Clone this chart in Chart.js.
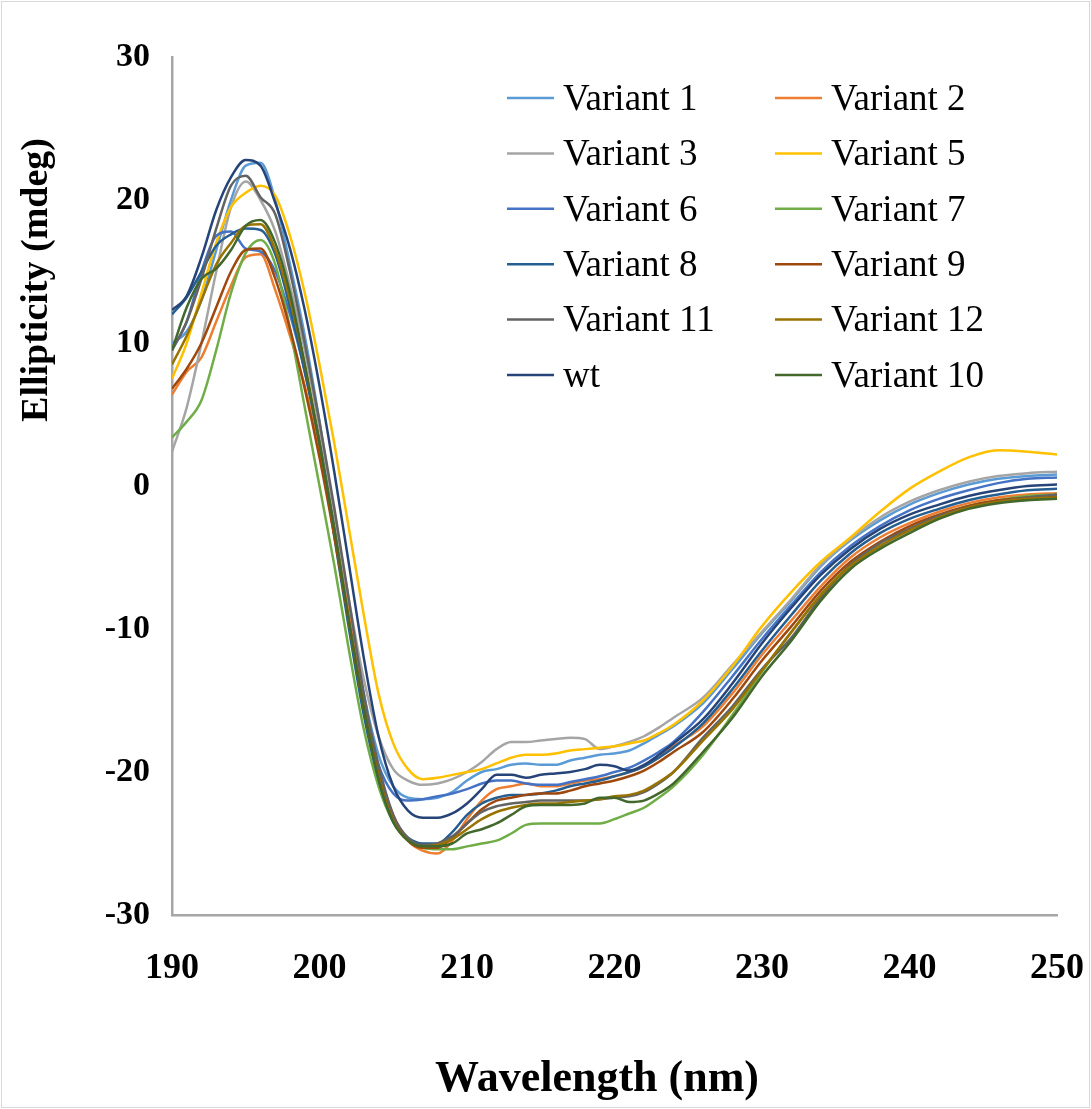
<!DOCTYPE html>
<html>
<head>
<meta charset="utf-8">
<script src="https://cdn.jsdelivr.net/npm/chart.js@4.4.1/dist/chart.umd.min.js"></script>
<style>
  html, body { margin: 0; padding: 0; background: #fff; }
  #wrap { width: 1091px; height: 1109px; }
</style>
</head>
<body>
<div id="wrap"><canvas id="cd" width="1091" height="1109"></canvas></div>
<script>
// wavelength grid (nm)
const wavelengths = [190, 191, 192, 193, 194, 195, 196, 197, 198, 199, 200, 201, 202, 203, 204, 205, 206, 207, 208, 209,
  210, 211, 212, 213, 214, 215, 216, 217, 218, 219, 220, 221, 222, 223, 224,
  226, 228, 230, 232, 234, 236, 238, 240, 242, 244, 246, 248, 250];

// ellipticity (mdeg)
const variant1 = [10.0, 10.8, 13.0, 16.5, 20.0, 22.4, 22.6, 20.0, 15.5, 10.5, 4.5, -2.0, -8.5, -14.5, -18.8, -21.0, -21.8, -21.9, -21.8, -21.4,
  -20.6, -20.0, -19.8, -19.5, -19.4, -19.5, -19.5, -19.2, -19.0, -18.8, -18.7, -18.5, -18.0, -17.4, -16.8,
  -15.2, -12.8, -10.3, -8.0, -5.6, -3.8, -2.4, -1.3, -0.5, 0.1, 0.5, 0.7, 0.8];
const variant2 = [6.4, 8.0, 9.0, 11.5, 14.0, 16.0, 16.2, 13.7, 10.5, 7.0, 2.5, -3.0, -9.0, -15.0, -19.8, -23.0, -24.8, -25.5, -25.7, -24.8,
  -23.3, -22.0, -21.2, -21.0, -20.8, -21.0, -21.0, -20.8, -20.6, -20.5, -20.3, -20.0, -19.6, -19.0, -18.2,
  -16.8, -14.5, -11.8, -9.4, -7.0, -5.0, -3.6, -2.6, -1.8, -1.2, -0.8, -0.6, -0.5];
const variant3 = [2.4, 5.5, 10.0, 15.0, 19.5, 21.3, 20.0, 17.8, 14.0, 9.5, 4.0, -2.0, -8.0, -13.5, -17.5, -19.8, -20.6, -20.9, -20.8, -20.5,
  -20.0, -19.3, -18.4, -17.9, -17.9, -17.8, -17.7, -17.6, -17.7, -18.4, -18.2, -17.9, -17.5, -16.9, -16.2,
  -14.8, -12.5, -10.2, -7.9, -5.5, -3.7, -2.2, -1.1, -0.3, 0.3, 0.7, 0.9, 1.0];
const variant5 = [7.5, 10.0, 13.5, 17.0, 19.5, 20.5, 21.0, 20.3, 17.5, 13.5, 8.5, 3.0, -3.0, -9.0, -14.5, -18.0, -19.8, -20.5, -20.4, -20.2,
  -20.0, -19.8, -19.4, -19.0, -18.8, -18.8, -18.7, -18.5, -18.4, -18.3, -18.2, -18.0, -17.8, -17.3, -16.7,
  -15.0, -12.6, -9.8, -7.4, -5.3, -3.6, -1.8, -0.2, 1.0, 2.0, 2.5, 2.4, 2.2];
const variant6 = [9.5, 11.5, 15.0, 17.5, 17.8, 16.6, 16.4, 15.0, 12.0, 8.0, 3.0, -3.0, -9.5, -15.5, -19.5, -21.5, -22.0, -21.9, -21.7, -21.5,
  -21.2, -20.8, -20.6, -20.6, -20.8, -20.9, -20.9, -20.7, -20.5, -20.3, -20.0, -19.7, -19.2, -18.6, -17.9,
  -15.8, -13.3, -10.7, -8.3, -6.0, -4.2, -2.8, -1.7, -0.9, -0.3, 0.2, 0.5, 0.6];
const variant7 = [3.4, 4.5, 6.0, 9.5, 13.5, 16.3, 17.2, 15.5, 11.0, 5.5, 0.0, -5.5, -11.5, -17.0, -21.0, -23.5, -24.8, -25.3, -25.4, -25.4,
  -25.2, -25.0, -24.8, -24.3, -23.7, -23.6, -23.6, -23.6, -23.6, -23.6, -23.3, -22.9, -22.5, -21.8, -21.0,
  -18.8, -16.0, -13.0, -10.2, -7.6, -5.5, -4.0, -3.0, -2.1, -1.4, -1.0, -0.7, -0.6];
const variant8 = [12.0, 13.2, 15.0, 16.8, 17.6, 18.0, 17.9, 16.2, 12.5, 8.0, 3.0, -3.5, -10.0, -16.0, -20.5, -23.5, -24.6, -25.0, -25.0, -24.2,
  -23.0, -22.2, -21.8, -21.6, -21.6, -21.5, -21.3, -21.0, -20.8, -20.6, -20.3, -20.0, -19.6, -19.0, -18.3,
  -16.6, -14.2, -11.5, -9.0, -6.6, -4.7, -3.3, -2.3, -1.6, -1.0, -0.6, -0.3, -0.2];
const variant9 = [6.8, 8.2, 10.0, 12.5, 15.0, 16.5, 16.6, 14.5, 11.0, 6.8, 2.0, -3.5, -9.5, -15.5, -20.0, -23.2, -24.8, -25.3, -25.3, -24.6,
  -23.6, -22.6, -22.0, -21.8, -21.6, -21.5, -21.5, -21.3, -21.0, -20.8, -20.6, -20.3, -19.9, -19.3, -18.6,
  -17.2, -14.9, -12.2, -9.8, -7.3, -5.3, -3.9, -2.8, -2.0, -1.4, -1.0, -0.8, -0.7];
const variant11 = [9.5, 11.5, 14.5, 18.0, 21.0, 21.7, 20.2, 19.0, 15.0, 10.0, 4.5, -1.5, -8.0, -14.5, -19.5, -23.0, -24.6, -25.1, -25.0, -24.5,
  -23.6, -22.8, -22.4, -22.2, -22.1, -22.0, -22.0, -22.0, -22.0, -21.9, -21.8, -21.7, -21.4, -20.8, -20.0,
  -17.6, -15.4, -12.8, -10.6, -7.8, -5.5, -4.0, -3.0, -2.1, -1.5, -1.1, -0.8, -0.6];
const variant12 = [8.5, 10.5, 13.0, 15.5, 17.0, 18.2, 18.3, 16.5, 13.0, 8.5, 3.0, -3.0, -9.5, -15.5, -20.3, -23.4, -24.8, -25.2, -25.1, -24.7,
  -24.0, -23.3, -22.8, -22.5, -22.3, -22.2, -22.2, -22.1, -22.0, -21.9, -21.7, -21.6, -21.3, -20.7, -20.0,
  -17.8, -15.6, -12.9, -10.2, -7.6, -5.6, -4.2, -3.1, -2.2, -1.5, -1.1, -0.9, -0.8];
const wt = [12.3, 13.3, 16.0, 19.3, 21.6, 22.8, 22.4, 19.8, 16.6, 12.3, 7.0, 1.0, -5.5, -12.0, -17.5, -21.0, -22.7, -23.2, -23.2, -22.9,
  -22.2, -21.2, -20.2, -20.2, -20.4, -20.2, -20.1, -20.0, -19.8, -19.5, -19.6, -19.9, -19.5, -18.8, -18.0,
  -16.3, -13.8, -11.0, -8.5, -6.2, -4.4, -3.0, -2.0, -1.3, -0.7, -0.3, 0.0, 0.1];
const variant10 = [9.5, 12.5, 14.5, 15.2, 16.5, 18.2, 18.6, 17.0, 13.5, 8.5, 3.0, -3.0, -9.5, -15.5, -20.5, -23.5, -24.8, -25.2, -25.2, -25.0,
  -24.3, -24.0, -23.6, -23.0, -22.4, -22.3, -22.3, -22.3, -22.2, -21.8, -21.8, -22.1, -22.0, -21.5, -20.8,
  -18.6, -16.2, -13.3, -10.8, -8.0, -5.8, -4.4, -3.3, -2.3, -1.6, -1.2, -1.0, -0.9];

const seriesNames = ["Variant 1", "Variant 2", "Variant 3", "Variant 5", "Variant 6", "Variant 7",
  "Variant 8", "Variant 9", "Variant 11", "Variant 12", "wt", "Variant 10"];
const seriesValues = [variant1, variant2, variant3, variant5, variant6, variant7,
  variant8, variant9, variant11, variant12, wt, variant10];
const seriesColors = ["#5B9BD5", "#ED7D31", "#A5A5A5", "#FFC000", "#4472C4", "#70AD47",
  "#255E91", "#9E480E", "#636363", "#997300", "#264478", "#43682B"];

const xTicks = [190, 200, 210, 220, 230, 240, 250];
const yTicks = [-30, -20, -10, 0, 10, 20, 30];

const serif = "'Liberation Serif', 'Times New Roman', serif";

const datasets = seriesNames.map((name, i) => ({
  label: name,
  data: wavelengths.map((w, j) => ({ x: w, y: seriesValues[i][j] })),
  borderColor: seriesColors[i],
  backgroundColor: seriesColors[i],
  borderWidth: 2.5,
  pointRadius: 0,
  cubicInterpolationMode: "monotone",
  order: seriesNames.length - i
}));

// legend in two columns + axis titles, placed like the original figure
const overlay = {
  id: "overlay",
  afterDraw(chart) {
    const ctx = chart.ctx;
    ctx.save();
    ctx.font = "37px " + serif;
    ctx.fillStyle = "#000";
    ctx.textBaseline = "middle";
    ctx.textAlign = "left";
    seriesNames.forEach((name, i) => {
      const col = i % 2;
      const row = Math.floor(i / 2);
      const x = col === 0 ? 507 : 775;
      const y = 98 + row * 55.4;
      ctx.strokeStyle = seriesColors[i];
      ctx.lineWidth = 2.5;
      ctx.beginPath();
      ctx.moveTo(x, y);
      ctx.lineTo(x + 47, y);
      ctx.stroke();
      ctx.fillText(name, x + 56, y + 2);
    });

    ctx.font = "bold 44px " + serif;
    ctx.textAlign = "center";
    ctx.fillText("Wavelength (nm)", 597, 1080);

    ctx.translate(37, 280);
    ctx.rotate(-Math.PI / 2);
    ctx.font = "bold 38px " + serif;
    ctx.fillText("Ellipticity (mdeg)", 0, 0);
    ctx.restore();

    ctx.save();
    ctx.strokeStyle = "#d9d9d9";
    ctx.lineWidth = 1;
    ctx.strokeRect(1.5, 1.5, 1088, 1106);
    ctx.restore();
  }
};

new Chart(document.getElementById("cd"), {
  type: "line",
  data: { datasets },
  plugins: [overlay],
  options: {
    responsive: false,
    animation: false,
    devicePixelRatio: 1,
    layout: { padding: { left: 0, top: 57, right: 34, bottom: 0 } },
    plugins: { legend: { display: false }, tooltip: { enabled: false } },
    scales: {
      x: {
        type: "linear",
        min: 190,
        max: 250,
        afterFit: (s) => { s.height = 1109 - 915; s.paddingLeft = 0; s.paddingRight = 0; },
        afterBuildTicks: (s) => { s.ticks = xTicks.map(v => ({ value: v })); },
        grid: { display: false, drawTicks: false },
        border: { display: true, color: "#a6a6a6", width: 2.5 },
        ticks: {
          autoSkip: false,
          maxRotation: 0,
          padding: 32,
          color: "#000",
          font: { family: serif, size: 36, weight: "bold" }
        }
      },
      y: {
        min: -30,
        max: 30,
        afterFit: (s) => { s.width = 172; s.paddingTop = 0; s.paddingBottom = 0; },
        afterBuildTicks: (s) => { s.ticks = yTicks.map(v => ({ value: v })); },
        grid: { display: false, drawTicks: false },
        border: { display: true, color: "#a6a6a6", width: 2.5 },
        ticks: {
          padding: 22,
          color: "#000",
          font: { family: serif, size: 34, weight: "bold" }
        }
      }
    }
  }
});
</script>
</body>
</html>
